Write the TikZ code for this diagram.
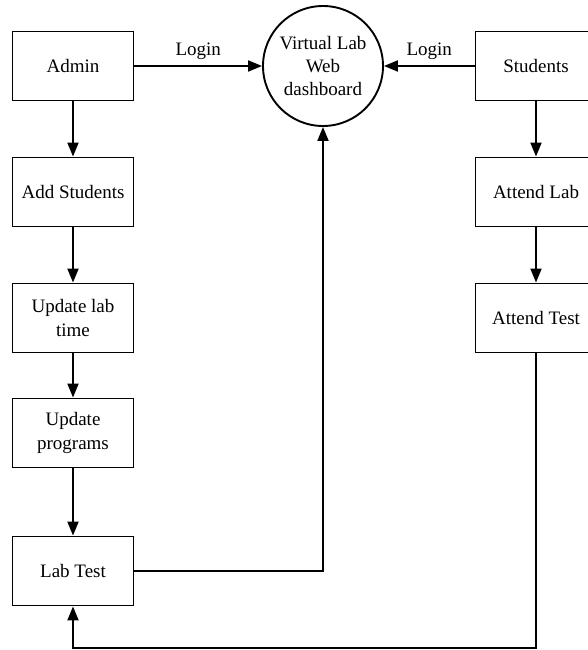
\documentclass[tikz,border=0pt]{standalone}
\usepackage{fontspec}
\setmainfont{Liberation Serif}
\usetikzlibrary{arrows.meta,positioning}
\begin{document}
\begin{tikzpicture}[x=1pt,y=-1pt,
  box/.style={draw,line width=1.9pt,minimum width=121pt,minimum height=69pt,align=center,font=\fontsize{19}{24}\selectfont,inner sep=1pt},
  proc/.style={draw,circle,line width=1.9pt,minimum size=120pt,align=center,font=\fontsize{19}{23}\selectfont,inner sep=0pt},
  arr/.style={line width=1.9pt,-{Triangle[length=14pt,width=11pt]}},
  lbl/.style={font=\fontsize{19}{20}\selectfont}]
\useasboundingbox (0,0) rectangle (587,650);
\node[box] (admin) at (73,66) {Admin};
\node[box] (add) at (73,192) {Add Students};
\node[box] (time) at (73,318) {Update lab\\time};
\node[box] (prog) at (73,433) {Update\\programs};
\node[box] (test) at (73,571) {Lab Test};
\node[proc] (dash) at (323,66) {Virtual Lab\\Web\\dashboard};
\node[box] (stud) at (536,66) {Students};
\node[box] (alab) at (536,192) {Attend Lab};
\node[box] (atest) at (536,318) {Attend Test};
\coordinate (bl) at (73,648);
\coordinate (br) at (536,648);
\coordinate (tc) at (323,571);
\draw[arr] (admin) -- (add);
\draw[arr] (add) -- (time);
\draw[arr] (time) -- (prog);
\draw[arr] (prog) -- (test);
\draw[arr] (stud) -- (alab);
\draw[arr] (alab) -- (atest);
\draw[arr] (admin) -- node[lbl,above=2pt]{Login} (dash);
\draw[arr] (stud) -- node[lbl,above=2pt]{Login} (dash);
\draw[arr] (test.east) -- (tc) -- (dash.south);
\draw[arr] (atest.south) -- (br) -- (bl) -- (test.south);
\end{tikzpicture}
\end{document}
